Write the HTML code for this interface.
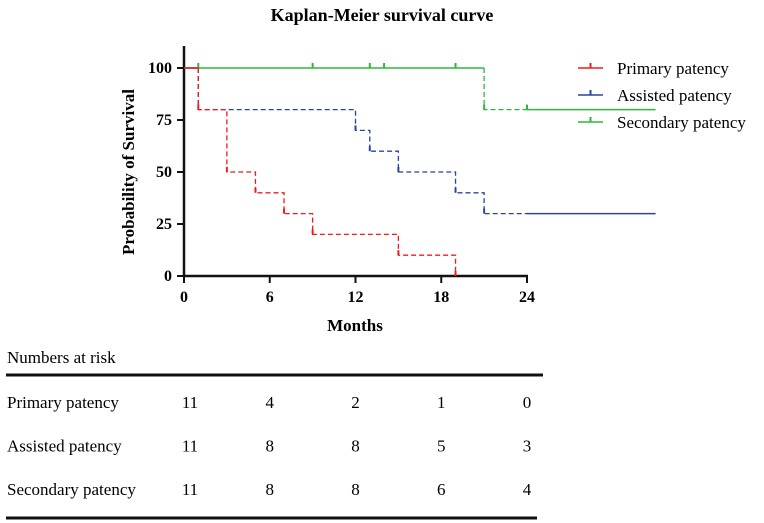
<!DOCTYPE html>
<html><head><meta charset="utf-8"><style>
body{margin:0;background:#fff;}
svg{display:block;font-family:"Liberation Serif",serif;}
</style></head><body>
<svg width="764" height="523" viewBox="0 0 764 523" xmlns="http://www.w3.org/2000/svg">
<text x="382" y="21" text-anchor="middle" font-size="18" font-weight="bold">Kaplan-Meier survival curve</text>
<g id="axes"></g>
<g id="series"></g>
<g id="legend"></g>
<g id="table"></g>
</svg>
<script>
const xTicks=[0,6,12,18,24];
const yTicks=[0,25,50,75,100];
const primaryT=[0,1,3,5,7,9,15,19];
const primaryS=[100,80,50,40,30,20,10,0];
const assistedT=[0,1,12,13,15,19,21];
const assistedS=[100,80,70,60,50,40,30];
const secondaryT=[0,21];
const secondaryS=[100,80];
const primaryCens=[1,3,5,7,9,15,19];
const assistedCens=[12,13,15,19,21];
const secondaryCens=[1,9,13,14,19,21,24];
const endT=33;
const riskRows=["Primary patency","Assisted patency","Secondary patency"];
const riskPrimary=[11,4,2,1,0];
const riskAssisted=[11,8,8,5,3];
const riskSecondary=[11,8,8,6,4];

const NS="http://www.w3.org/2000/svg";
const X=t=>184+t*(527-184)/24;
const Y=v=>276-v*(276-68)/100;
function mk(tag,attrs,parent,text){const e=document.createElementNS(NS,tag);for(const k in attrs)e.setAttribute(k,attrs[k]);if(text!==undefined)e.textContent=text;document.getElementById(parent).appendChild(e);return e;}

let e=mk('line',{x1:184,y1:46,x2:184,y2:277,stroke:'#111','stroke-width':2.5},'axes');

e=mk('line',{x1:183,y1:276,x2:X(24)+1,y2:276,stroke:'#111','stroke-width':2.5},'axes');

xTicks.forEach(t=>{
  let l=mk('line',{x1:X(t),y1:276,x2:X(t),y2:283,stroke:'#111','stroke-width':2},'axes');
  
  let tx=mk('text',{x:X(t),y:302,'text-anchor':'middle','font-size':16,'font-weight':'bold'},'axes',String(t));
  
});
yTicks.forEach(v=>{
  let l=mk('line',{x1:177,y1:Y(v),x2:184,y2:Y(v),stroke:'#111','stroke-width':2},'axes');
  
  let tx=mk('text',{x:172,y:Y(v)+5,'text-anchor':'end','font-size':16,'font-weight':'bold'},'axes',String(v));
  
});
e=mk('text',{x:355,y:331,'text-anchor':'middle','font-size':17,'font-weight':'bold'},'axes','Months');

e=mk('text',{x:0,y:0,'text-anchor':'middle','font-size':17,'font-weight':'bold',transform:'translate(134,172) rotate(-90)'},'axes','Probability of Survival');


function stepVal(T,S,t){let v=S[0];for(let i=0;i<T.length;i++)if(T[i]<=t)v=S[i];return v;}
function drawSeries(name,T,S,cens,color,dashFrom,dashTo){
  const end=S[S.length-1]===0?T[T.length-1]:endT;
  let p=mk('path',{d:'M'+X(0)+','+Y(S[0])+' H'+X(Math.min(dashFrom,end)),fill:'none',stroke:color,'stroke-width':1.5},'series');
  
  let d='M'+X(dashFrom)+','+Y(stepVal(T,S,dashFrom-0.001));
  for(let i=0;i<T.length;i++){if(T[i]>=dashFrom&&T[i]<=dashTo){d+=' H'+X(T[i])+' V'+Y(S[i]);}}
  d+=' H'+X(Math.min(dashTo,end));
  p=mk('path',{d:d,fill:'none',stroke:color,'stroke-width':1.3,'stroke-dasharray':'5,3'},'series');
  
  if(dashTo<end){
    p=mk('path',{d:'M'+X(dashTo)+','+Y(stepVal(T,S,dashTo))+' H'+X(end),fill:'none',stroke:color,'stroke-width':1.5},'series');
    
  }
  cens.forEach(t=>{
    const v=stepVal(T,S,t);
    let c=mk('line',{x1:X(t),y1:Y(v),x2:X(t),y2:Y(v)-5,stroke:color,'stroke-width':2},'series');
    
  });
}
drawSeries('assisted',assistedT,assistedS,assistedCens,'#2b44a0',1,24);
drawSeries('secondary',secondaryT,secondaryS,secondaryCens,'#2db83d',21,24);
drawSeries('primary',primaryT,primaryS,primaryCens,'#f21b1b',1,40);

const legNames=['Primary patency','Assisted patency','Secondary patency'];
const legColors=['#f21b1b','#2b44a0','#2db83d'];
legNames.forEach((n,i)=>{
  const y=68+i*27;
  let l=mk('line',{x1:578,y1:y,x2:603,y2:y,stroke:legColors[i],'stroke-width':1.5},'legend');
  
  l=mk('line',{x1:590.5,y1:y,x2:590.5,y2:y-5,stroke:legColors[i],'stroke-width':2},'legend');
  
  let t=mk('text',{x:617,y:y+6,'font-size':17},'legend',n);
  
});

e=mk('text',{x:7,y:363,'font-size':17},'table','Numbers at risk');

e=mk('line',{x1:6,y1:375,x2:543,y2:375,stroke:'#111','stroke-width':3},'table');

e=mk('line',{x1:6,y1:518,x2:537,y2:518,stroke:'#111','stroke-width':3},'table');

const riskVals=[riskPrimary,riskAssisted,riskSecondary];
riskRows.forEach((r,i)=>{
  const y=408+i*43.5;
  let t=mk('text',{x:7,y:y,'font-size':17},'table',r);
  
  riskVals[i].forEach((v,j)=>{
    let c=mk('text',{x:X(xTicks[j])+(j===0?6:0),y:y,'text-anchor':'middle','font-size':17},'table',String(v));
    
  });
});
</script>
</body></html>
